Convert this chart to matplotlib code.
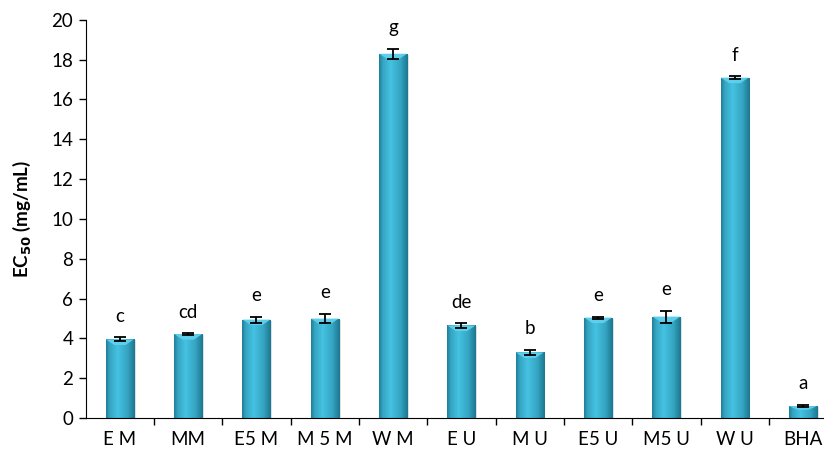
import numpy as np
import matplotlib.pyplot as plt
from matplotlib.colors import to_rgb
from matplotlib.patches import Polygon

# ==================================================
# Data
# ==================================================
categories = ["E M", "MM", "E5 M", "M 5 M", "W M", "E U", "M U", "E5 U", "M5 U", "W U", "BHA"]
ec50 = [3.95, 4.22, 4.95, 5.0, 18.3, 4.65, 3.3, 5.05, 5.1, 17.1, 0.6]
ec50_err = [0.10, 0.04, 0.15, 0.25, 0.25, 0.12, 0.12, 0.05, 0.30, 0.06, 0.06]
letters = ["c", "cd", "e", "e", "g", "de", "b", "e", "e", "f", "a"]

plt.rcParams["font.family"] = ["Lato", "DejaVu Sans"]

fig = plt.figure(figsize=(8.24, 4.51), dpi=100)
ax = fig.add_axes([0.104, 0.073, 0.912, 0.883])

x = np.arange(len(categories))
bar_w = 0.41

# --------------------------------------------------
# Cylinder-like shading for the bars
# --------------------------------------------------
dark = np.array(to_rgb("#1c7790"))
light = np.array(to_rgb("#45c2e2"))
u = np.linspace(0, 1, 64)
prof = np.interp(u, [0.0, 0.12, 0.4, 0.75, 1.0], [0.1, 0.6, 1.0, 0.6, 0.0])
row = np.array([dark + (light - dark) * p for p in prof])
grad = np.repeat(row[np.newaxis, :, :], 2, axis=0)

bars = ax.bar(x, ec50, width=bar_w, color="none", edgecolor="none", zorder=2)
for b in bars:
    x0, w, h = b.get_x(), b.get_width(), b.get_height()
    # soft shadow on the right
    ax.bar(x0 + w / 2 + 0.025, h, width=w, bottom=-0.05, color="#b8c4c8",
           alpha=0.5, edgecolor="none", zorder=1)
    im = ax.imshow(grad, extent=[x0, x0 + w, 0, h], aspect="auto",
                   interpolation="bilinear", zorder=2)
    im.set_clip_path(b)
    # bevel highlight at the top
    d = min(0.28, h * 0.3)
    bevel = Polygon([(x0, h), (x0 + w, h), (x0 + w * 0.7, h - d), (x0 + w * 0.3, h - d)],
                    closed=True, facecolor="#62d2ee", edgecolor="none", alpha=0.9, zorder=2.5)
    ax.add_patch(bevel)

ax.errorbar(x, ec50, yerr=ec50_err, fmt="none", ecolor="black",
            elinewidth=1.3, capsize=4, capthick=1.3, zorder=3)

for xi, v, e, lab in zip(x, ec50, ec50_err, letters):
    ax.annotate(lab, (xi, v + e), xytext=(0, 9), textcoords="offset points",
                ha="center", va="bottom", fontsize=13.5)

# --------------------------------------------------
# Axes styling
# --------------------------------------------------
ax.set_xlim(-0.5, len(categories) - 0.5)
ax.set_ylim(0, 20)
ax.set_yticks(np.arange(0, 21, 2))
ax.set_xticks(x)
ax.set_xticklabels(categories, fontsize=13.5)
ax.set_xticks(np.arange(0.5, len(categories) - 0.5, 1), minor=True)
ax.tick_params(axis="x", which="major", length=0, pad=9)
ax.tick_params(axis="x", which="minor", length=5, width=1, direction="out")
ax.tick_params(axis="y", length=5, width=1, direction="out", labelsize=13.5, pad=4)
ax.spines["top"].set_visible(False)
ax.spines["right"].set_visible(False)
ax.set_ylabel(r"EC$_{\mathbf{50}}$ (mg/mL)", fontsize=13.5, fontweight="bold", labelpad=13)

fig.savefig("out.png", dpi=100)
